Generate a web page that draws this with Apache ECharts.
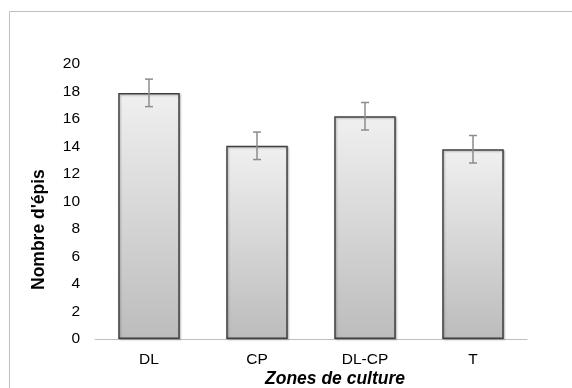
<!DOCTYPE html>
<html>
<head>
<meta charset="utf-8">
<script src="https://cdn.jsdelivr.net/npm/echarts@6/dist/echarts.min.js"></script>
<style>
  html, body { margin: 0; padding: 0; background: #fff; }
  #chart { width: 572px; height: 388px; }
</style>
</head>
<body>
<div id="chart"></div>
<script>
// Zones de culture and mean ear counts with their error margins
const zones = ['DL', 'CP', 'DL-CP', 'T'];
const epis = [17.9, 14.05, 16.2, 13.8];
const erreurs = [1.0, 1.0, 1.0, 1.0];
const yTicks = [0, 2, 4, 6, 8, 10, 12, 14, 16, 18, 20];

const chart = echarts.init(document.getElementById('chart'), null, { renderer: 'canvas' });

const font = 'Liberation Sans, Arial, sans-serif';

chart.setOption({
  animation: false,
  backgroundColor: '#ffffff',
  graphic: [
    {
      type: 'rect',
      shape: { x: 9.5, y: 11.5, width: 580, height: 400 },
      style: { fill: 'none', stroke: '#bfbfbf', lineWidth: 1 },
      silent: true
    },
    {
      type: 'text',
      x: 265, y: 370,
      style: { text: 'Zones de culture', font: 'italic bold 17.5px ' + font, fill: '#000' }
    },
    {
      type: 'text',
      rotation: Math.PI / 2,
      x: 30, y: 290,
      style: { text: "Nombre d'épis", font: 'bold 17.5px ' + font, fill: '#000' }
    }
  ],
  grid: { left: 95, right: 45, top: 64, bottom: 49, containLabel: false },
  xAxis: {
    type: 'category',
    data: zones,
    axisLine: { show: true, lineStyle: { color: '#bfbfbf', width: 1 } },
    axisTick: { show: false },
    axisLabel: { color: '#000', fontSize: 15.5, fontFamily: font, margin: 13 }
  },
  yAxis: {
    type: 'value',
    min: yTicks[0],
    max: yTicks[yTicks.length - 1],
    interval: yTicks[1] - yTicks[0],
    axisLine: { show: false },
    axisTick: { show: false },
    splitLine: { show: false },
    axisLabel: { color: '#000', fontSize: 15.5, fontFamily: font, margin: 15 }
  },
  series: [
    {
      type: 'bar',
      data: epis,
      barWidth: '57%',
      itemStyle: {
        color: new echarts.graphic.LinearGradient(0, 0, 0, 1, [
          { offset: 0, color: '#f0f0f0' },
          { offset: 1, color: '#bcbcbc' }
        ]),
        borderColor: '#404040',
        borderWidth: 1.5,
        shadowColor: 'rgba(0,0,0,0.25)',
        shadowBlur: 2,
        shadowOffsetX: 1,
        shadowOffsetY: 1
      },
      z: 2
    },
    {
      type: 'custom',
      data: epis.map((v, i) => [i, v, erreurs[i]]),
      renderItem: function (params, api) {
        const i = api.value(0);
        const v = api.value(1);
        const e = api.value(2);
        const hi = api.coord([i, v + e]);
        const lo = api.coord([i, v - e]);
        const cap = 4;
        const st = { stroke: '#8c8c8c', lineWidth: 1.5 };
        return {
          type: 'group',
          children: [
            { type: 'line', shape: { x1: hi[0], y1: hi[1], x2: lo[0], y2: lo[1] }, style: st },
            { type: 'line', shape: { x1: hi[0] - cap, y1: hi[1], x2: hi[0] + cap, y2: hi[1] }, style: st },
            { type: 'line', shape: { x1: lo[0] - cap, y1: lo[1], x2: lo[0] + cap, y2: lo[1] }, style: st }
          ]
        };
      },
      z: 3
    }
  ]
});
</script>
</body>
</html>
